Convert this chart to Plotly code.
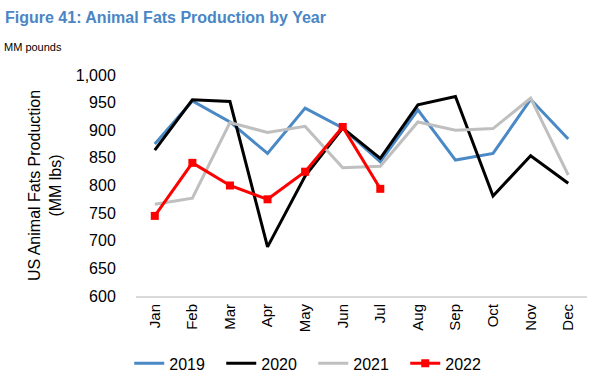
import plotly.graph_objects as go

months = ["Jan", "Feb", "Mar", "Apr", "May", "Jun", "Jul", "Aug", "Sep", "Oct", "Nov", "Dec"]
v2019 = [875, 953, 915, 858, 940, 904, 843, 937, 846, 858, 956, 884]
v2020 = [864, 955, 952, 689, 817, 904, 849, 946, 961, 781, 854, 804]
v2021 = [766, 777, 914, 896, 907, 832, 835, 915, 900, 903, 958, 819]
v2022 = [745, 841, 800, 775, 825, 906, 794]

FONT = "Liberation Sans, Arial, sans-serif"

fig = go.Figure()
fig.add_trace(go.Scatter(x=months, y=v2019, name="2019", mode="lines",
                         line=dict(color="#4A89C5", width=3)))
fig.add_trace(go.Scatter(x=months, y=v2020, name="2020", mode="lines",
                         line=dict(color="#000000", width=3)))
fig.add_trace(go.Scatter(x=months, y=v2021, name="2021", mode="lines",
                         line=dict(color="#BFBFBF", width=3)))
fig.add_trace(go.Scatter(x=months[:len(v2022)], y=v2022, name="2022", mode="lines+markers",
                         line=dict(color="#FF0000", width=3),
                         marker=dict(symbol="square", size=8, color="#FF0000")))

fig.update_layout(
    width=600, height=381,
    margin=dict(l=136, r=13, t=75, b=85, autoexpand=False),
    paper_bgcolor="white", plot_bgcolor="white",
    font=dict(family=FONT, color="#000000"),
    showlegend=True,
    legend=dict(orientation="h", x=-0.015, xanchor="left", y=-0.305, yanchor="middle",
                font=dict(size=16), entrywidth=47, entrywidthmode="pixels",
                itemwidth=30, tracegroupgap=0),
    annotations=[
        dict(text="<b>Figure 41: Animal Fats Production by Year</b>", xref="paper", yref="paper",
             x=-133/451, y=1 + (75 - 17) / 221, xanchor="left", yanchor="middle", showarrow=False,
             font=dict(size=16, color="#4A86C4", family=FONT)),
        dict(text="MM pounds", xref="paper", yref="paper",
             x=-134/451, y=1 + (75 - 47) / 221, xanchor="left", yanchor="middle", showarrow=False,
             font=dict(size=11, color="#000000", family=FONT)),
    ],
)
fig.update_xaxes(
    type="category", range=[-0.5, 11.5], tickangle=-90, tickfont=dict(size=15),
    showline=True, linecolor="#D9D9D9", linewidth=2, automargin=False,
    showgrid=False, ticks="", zeroline=False,
)
fig.update_yaxes(
    range=[600, 1000], dtick=50, tickformat=",", automargin=False,
    tickfont=dict(size=16), showgrid=False, zeroline=False, showline=False,
    ticks="outside", ticklen=16, tickcolor="rgba(0,0,0,0)",
    title=dict(text="US Animal Fats Production<br>(MM lbs)", font=dict(size=16), standoff=10),
)

fig.write_html("out.html", config={"displayModeBar": False},
               post_script="document.body.style.margin='0';document.body.style.padding='0';")
